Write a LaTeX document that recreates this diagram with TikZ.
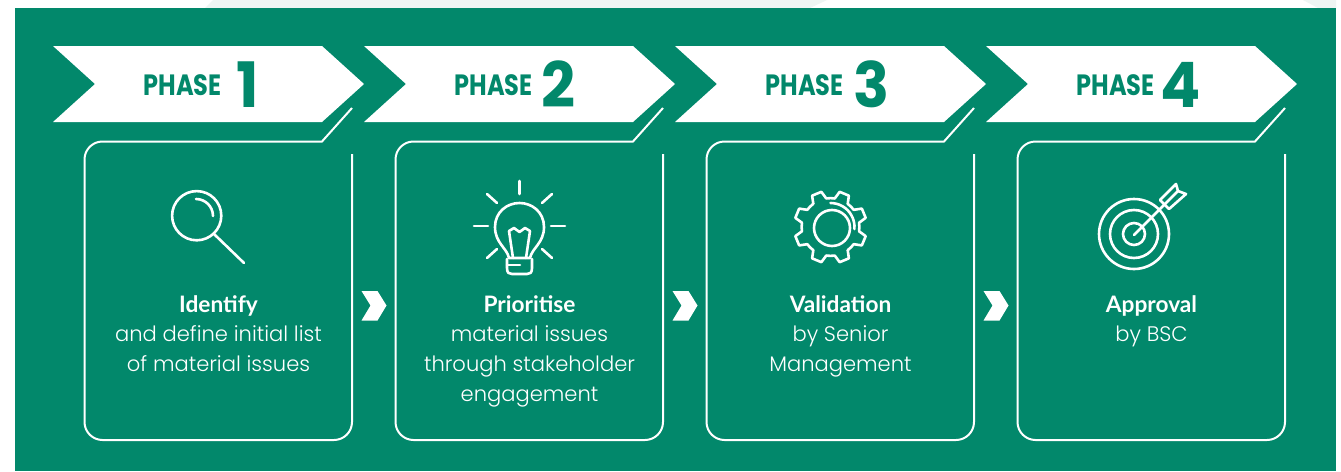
\documentclass[tikz,border=0pt]{standalone}
\usepackage{fontspec}
\setmainfont{Lato}
\newfontfamily\numfont{Poppins}
\newfontfamily\bodyfont{Poppins Light}
\definecolor{panel}{HTML}{02886B}
\definecolor{faint}{HTML}{EEF5F3}
\tikzset{
  phasearrow/.style={fill=white,draw=none},
  cardline/.style={draw=white,line width=1.5pt},
  iconline/.style={draw=white,line width=1.95pt,line cap=round,line join=round},
  nextmark/.style={fill=white,draw=none},
  cardtext/.style={text=white,align=center,font=\bodyfont\fontsize{15.8pt}{22.3pt}\selectfont,anchor=north,inner sep=0pt},
  phaseword/.style={text=panel,font=\numfont\bfseries\fontsize{22pt}{22pt}\selectfont,inner sep=0pt,anchor=base east},
  phasenum/.style={text=panel,font=\numfont\bfseries\fontsize{47pt}{47pt}\selectfont,inner sep=0pt,anchor=base west},
}
\newcommand{\headtext}[1]{{\rmfamily\bfseries\fontsize{17pt}{22.3pt}\selectfont #1}}
\newcommand{\phasecell}[4]{%
 \begin{scope}[xshift=#1*0.75pt]
  \path[phasearrow] (53,46) -- (322,46) -- (364,84) -- (322,122) -- (53,122) -- (95,84) -- cycle;
  \node[phaseword] (w#2) at (222,95) {\scalebox{0.82}[1]{PHASE}};
  \node[phasenum] (n#2) at (#4,107.5) {\scalebox{0.95}[1]{#2}};
  \draw[cardline] (352,154) -- (352,422) arc (0:90:18) -- (102.5,440) arc (90:180:18) -- (84.5,159.5) arc (180:270:18) -- (322,141.5) -- (352,108);
  \node[cardtext] (t#2) at (218.5,295) {#3};
 \end{scope}}
\begin{document}
\begin{tikzpicture}[x=0.75pt,y=-0.75pt]
\useasboundingbox (0,0) rectangle (1341,471);
\fill[white] (0,0) rectangle (1341,471);
\fill[faint] (213,0) -- (205,8) -- (810,8) -- (827,0) -- cycle;
\fill[faint] (1303,0) -- (1318,8) -- (1336,8) -- (1336,0) -- cycle;
\fill[panel] (15,8) rectangle (1336,471);
\phasecell{0}{1}{\headtext{Identify}\\and define initial list\\of material issues}{236}
\phasecell{311}{2}{\headtext{Prioritise}\\material issues\\through stakeholder\\engagement}{230}
\phasecell{622}{3}{\headtext{Validation}\\by Senior\\Management}{231}
\phasecell{933}{4}{\headtext{Approval}\\by BSC}{227}
% next marks
\foreach \i/\dx in {a/0,b/311,c/622}{
  \path[nextmark,xshift=\dx*0.75pt] (361.5,291) -- (377.5,291) -- (386.5,305.5) -- (377.5,320.5) -- (361.5,320.5) -- (370.5,305.5) -- cycle;
}
% magnifier
\draw[iconline] (196.7,215.7) circle (24.6);
\draw[iconline] (196,199) arc (-90:0:17) ;
\draw[iconline] (214.3,234.3) -- (244,263);
% bulb
\begin{scope}[iconline]
\draw (519.5,181) -- (519.5,194);
\draw (487,194) -- (497,203);
\draw (552,194) -- (542,203);
\draw (474,226) -- (488,226);
\draw (551,226) -- (565,226);
\draw (487,258) -- (497,249);
\draw (552,258) -- (542,249);
\draw (509,258) .. controls (507,248) and (495,243) .. (495,227) .. controls (495,212) and (507,203) .. (519.5,203) .. controls (532,203) and (544,212) .. (544,227) .. controls (544,243) and (532,248) .. (530,258) -- cycle;
\draw (513,258) -- (509,231) -- (514,228) -- (519.5,232) -- (525,228) -- (530,231) -- (526,258);
\draw (507,259) -- (507,268) .. controls (507,273) and (509,274) .. (512,274) -- (527,274) .. controls (530,274) and (532,273) .. (532,268) -- (532,259);
\draw (507,265) -- (520,265);
\end{scope}
% gear
\begin{scope}[iconline,shift={(830.5,227)}]
\foreach \a in {0,45,...,315}{
  \draw[rotate=\a+22.5] (-7,-28) -- (-5,-36) -- (5,-36) -- (7,-28) arc (-76:-59:28.8);
}
\draw (1.5,1) circle (18);
\draw (0,-24) arc (-90:5:24);
\end{scope}
% target
\begin{scope}[iconline]
\draw (1134,234) circle (35);
\draw (1134,234) circle (24);
\draw (1134,234) circle (11);
\draw (1134,235) -- (1178,191);
\draw (1160,200) -- (1176,184) -- (1178,191) -- (1186,194) -- (1169,209) -- cycle;
\end{scope}
\end{tikzpicture}
\end{document}
